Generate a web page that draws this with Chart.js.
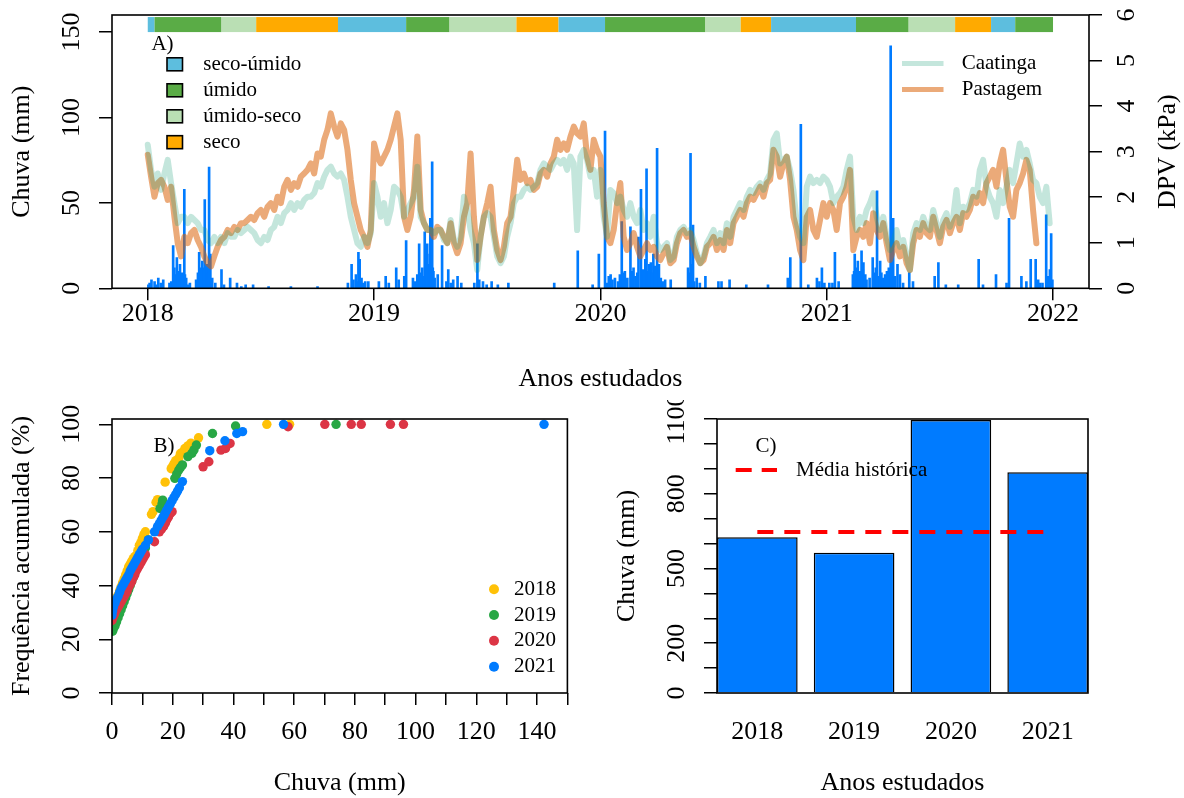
<!DOCTYPE html>
<html lang="pt">
<head>
<meta charset="utf-8">
<title>Chuva, DPV e frequência acumulada 2018–2021</title>
<script src="https://cdn.jsdelivr.net/npm/chart.js@4.4.1/dist/chart.umd.min.js"></script>
<style>
  html, body { margin: 0; padding: 0; background: #fff; }
  #wrap { position: relative; width: 1184px; height: 798px; overflow: hidden; background: #fff; }
  canvas { position: absolute; }
</style>
</head>
<body>
<div id="wrap">
  <canvas id="cA" width="1184" height="400" style="left:0;top:0;width:1184px;height:400px"></canvas>
  <canvas id="cB" width="590" height="398" style="left:0;top:400px;width:590px;height:398px"></canvas>
  <canvas id="cC" width="594" height="398" style="left:590px;top:400px;width:594px;height:398px"></canvas>
</div>
<script>
// ---------------- Painel A: DPV diário e chuva ----------------
const anos = [2018, 2019, 2020, 2021];
const passosPorAno = 68;

const dpvPastagem2018 = [2.93,2.45,2.01,2.31,2.38,2.23,1.94,2.23,1.57,0.99,0.70,1.13,0.99,1.21,1.28,1.06,0.91,0.70,0.55,0.48,0.70,0.91,1.06,1.13,1.28,1.21,1.35,1.28,1.43,1.43,1.50,1.57,1.50,1.65,1.72,1.57,1.79,1.87,1.72,2.01,1.87,2.23,2.38,2.16,2.31,2.23,2.45,2.52,2.60,2.74,2.52,2.96,2.89,3.26,3.48,3.84,3.55,3.33,3.62,3.48,3.04,2.38,1.87,1.57,1.28,1.13,0.91,1.28];
const dpvPastagem2019 = [3.18,2.89,2.74,2.89,3.04,3.26,3.55,3.84,3.26,1.57,1.28,1.57,2.16,3.33,1.72,1.43,1.28,1.28,1.13,1.35,1.28,1.13,0.99,1.43,0.99,0.77,0.99,1.57,1.87,2.96,1.57,0.62,1.13,1.57,1.87,2.23,1.28,0.84,0.62,0.91,1.43,1.57,2.16,2.82,2.38,2.52,2.31,2.38,2.16,2.23,2.52,2.60,2.45,2.74,2.89,3.26,3.04,3.18,3.04,3.33,3.55,3.40,3.33,3.62,2.89,2.60,3.26,3.04];
const dpvPastagem2020 = [2.89,1.87,1.13,0.99,1.28,1.87,2.31,1.13,0.84,0.99,1.21,0.91,0.70,0.84,0.99,0.84,0.91,0.70,0.62,0.77,0.91,0.55,0.62,0.99,1.21,1.28,1.13,1.21,0.91,0.70,0.55,0.62,0.91,0.99,1.13,0.84,1.06,0.84,1.28,0.99,1.43,1.57,1.72,1.57,1.87,2.01,1.94,2.09,2.23,2.01,2.31,2.38,3.04,2.89,2.45,2.74,2.89,2.38,1.57,1.28,0.84,0.62,1.57,1.72,1.28,1.13,1.50,1.87];
const dpvPastagem2021 = [1.57,1.87,1.72,1.28,1.87,2.01,2.23,2.60,0.84,1.13,1.28,1.13,1.43,0.99,1.65,1.28,1.13,1.43,0.99,0.62,0.84,0.99,0.70,0.91,0.55,0.40,0.99,1.28,1.13,1.43,1.21,1.13,1.57,1.28,0.99,1.35,1.50,1.21,1.43,1.57,1.28,1.65,1.57,1.72,2.01,1.87,2.09,1.87,2.31,2.45,2.60,2.23,2.74,3.04,2.38,1.79,1.57,2.16,2.31,2.52,2.82,2.60,1.72,0.99,null,null,null,null];

const dpvCaatinga2018 = [3.15,2.60,2.23,2.52,2.16,2.52,2.82,2.31,1.87,1.43,1.57,1.57,1.43,1.57,1.50,1.43,1.28,1.28,1.06,0.99,1.13,0.99,1.13,0.99,1.21,1.13,1.13,1.28,1.21,1.28,1.35,1.28,1.21,1.06,0.99,1.13,1.06,1.28,1.35,1.57,1.43,1.65,1.72,1.87,1.72,1.87,1.79,1.94,2.01,2.01,2.09,2.31,2.23,2.45,2.60,2.67,2.52,2.45,2.52,2.38,2.01,1.57,1.28,0.99,0.91,1.13,0.99,1.21];
const dpvCaatinga2019 = [2.31,2.01,1.57,1.87,1.43,1.72,2.23,2.16,2.01,1.57,1.72,1.87,2.01,2.67,1.57,1.43,1.28,1.28,1.21,1.28,1.28,1.06,0.99,1.50,1.06,0.91,1.13,2.01,1.72,1.28,0.99,0.40,1.13,1.57,1.65,1.57,1.13,0.70,0.55,0.70,1.13,1.43,1.87,2.01,2.01,2.16,2.23,2.16,2.23,2.31,2.60,2.74,2.67,2.60,2.74,2.82,2.74,2.82,2.60,2.89,2.74,1.28,2.89,3.04,2.82,2.45,2.60,2.01];
const dpvCaatinga2020 = [2.60,1.57,1.13,2.16,2.09,1.87,2.01,1.72,1.57,1.87,1.57,1.43,1.72,1.28,1.43,1.13,1.57,0.99,0.84,0.91,0.99,0.62,0.70,1.13,1.28,1.35,1.21,1.28,1.06,0.77,0.55,0.70,0.99,1.13,1.28,0.99,1.21,0.99,1.43,1.13,1.57,1.72,1.87,1.72,2.01,2.16,2.09,2.23,2.31,2.16,2.38,2.52,3.26,3.40,2.74,2.82,2.89,2.60,2.16,1.43,1.13,0.99,2.23,2.45,2.31,2.38,2.31,2.45];
const dpvCaatinga2021 = [2.38,2.23,1.87,2.01,2.09,2.23,2.60,2.89,1.57,1.28,1.57,1.43,1.72,1.87,2.09,1.57,1.28,1.57,1.13,0.84,0.99,1.28,0.91,1.06,0.70,0.40,1.21,1.43,1.28,1.57,1.35,1.28,1.72,1.43,1.13,1.50,1.65,1.35,1.57,2.16,1.43,1.79,1.72,1.87,2.16,2.01,2.60,2.82,2.23,2.01,1.87,1.57,2.16,1.87,2.23,2.60,2.31,2.74,3.18,2.89,3.04,2.74,2.38,2.31,2.01,1.87,2.23,1.43];

// chuva diária (mm) por data de ocorrência
const chuvaDatas2018 = [
  '2018-01-02','2018-01-04','2018-01-07','2018-01-12','2018-01-15','2018-01-18','2018-01-22','2018-01-26','2018-02-05','2018-02-08',
  '2018-02-11','2018-02-13','2018-02-15','2018-02-17','2018-02-19','2018-02-20','2018-02-22','2018-02-24','2018-02-25','2018-02-27',
  '2018-03-01','2018-03-02','2018-03-04','2018-03-07','2018-03-10','2018-03-20','2018-03-23','2018-03-25','2018-03-27','2018-03-28',
  '2018-03-30','2018-04-01','2018-04-02','2018-04-03','2018-04-05','2018-04-06','2018-04-07','2018-04-08','2018-04-10','2018-04-11',
  '2018-04-12','2018-04-13','2018-04-15','2018-04-20','2018-04-30','2018-05-04','2018-05-14','2018-05-25','2018-06-01','2018-06-08',
  '2018-06-20','2018-07-15','2018-08-20','2018-10-02','2018-11-20','2018-11-26','2018-11-29','2018-12-03','2018-12-05','2018-12-07',
  '2018-12-09','2018-12-12','2018-12-14','2018-12-18','2018-12-23'
];
const chuvaMm2018 = [
  2,3,5,4,2,6,3,5,3,4,
  25,12,8,18,6,10,14,5,9,4,
  58,8,6,2,3,5,9,21,7,12,
  16,10,12,52,8,5,14,9,71,11,
  20,4,6,3,11,2,6,3,1,2,
  2,1,1,1,3,14,5,8,4,21,
  17,6,3,4,4
];
const chuvaDatas2019 = [
  '2019-01-09','2019-01-20','2019-01-25','2019-02-06','2019-02-10','2019-02-19','2019-02-22','2019-03-05','2019-03-08','2019-03-12',
  '2019-03-15','2019-03-17','2019-03-20','2019-03-22','2019-03-24','2019-03-25','2019-03-27','2019-03-28','2019-03-30','2019-03-31',
  '2019-04-01','2019-04-02','2019-04-03','2019-04-04','2019-04-05','2019-04-06','2019-04-07','2019-04-09','2019-04-14','2019-04-21',
  '2019-04-28','2019-05-01','2019-05-05','2019-05-09','2019-05-16','2019-05-22','2019-06-12','2019-06-17','2019-06-20','2019-06-26',
  '2019-07-02','2019-07-10','2019-07-20','2019-08-06','2019-10-19','2019-11-26','2019-12-20','2019-12-30'
];
const chuvaMm2019 = [
  4,7,3,12,5,7,28,6,4,8,
  26,9,12,7,33,15,18,26,14,10,
  20,41,17,22,74,12,10,6,8,25,
  4,11,3,5,7,3,3,26,5,4,
  2,4,2,3,3,22,2,20
];
const chuvaDatas2020 = [
  '2020-01-09','2020-01-12','2020-01-15','2020-01-18','2020-01-21','2020-01-25','2020-01-30','2020-02-02','2020-02-05','2020-02-07',
  '2020-02-10','2020-02-14','2020-02-19','2020-02-21','2020-02-24','2020-02-27','2020-03-01','2020-03-03','2020-03-07','2020-03-10',
  '2020-03-12','2020-03-14','2020-03-16','2020-03-18','2020-03-20','2020-03-23','2020-03-25','2020-03-27','2020-03-30','2020-04-02',
  '2020-04-05','2020-04-08','2020-04-11','2020-04-15','2020-04-24','2020-05-22','2020-05-24','2020-05-26','2020-05-28','2020-05-30',
  '2020-06-01','2020-06-05','2020-06-10','2020-06-19','2020-07-10','2020-07-15','2020-07-28','2020-08-24','2020-09-28','2020-10-30',
  '2020-11-03','2020-11-20','2020-12-02','2020-12-16','2020-12-20','2020-12-24','2020-12-28'
];
const chuvaMm2020 = [
  92,3,7,8,5,6,4,8,39,9,
  10,6,36,10,12,7,9,30,58,11,
  8,17,70,10,14,15,9,20,13,82,
  14,6,4,5,5,12,9,79,14,37,
  4,6,3,7,4,4,5,2,2,6,
  18,96,2,6,4,12,3
];
const chuvaDatas2021 = [
  '2021-01-05','2021-01-10','2021-01-14','2021-01-20','2021-02-12','2021-02-14','2021-02-15','2021-02-17','2021-02-19','2021-02-20',
  '2021-02-22','2021-02-23','2021-02-26','2021-02-28','2021-03-01','2021-03-04','2021-03-06','2021-03-11','2021-03-16','2021-03-19',
  '2021-03-21','2021-03-23','2021-03-25','2021-03-28','2021-03-30','2021-04-02','2021-04-05','2021-04-08','2021-04-11','2021-04-14',
  '2021-04-16','2021-04-18','2021-04-21','2021-04-25','2021-04-29','2021-05-04','2021-05-14','2021-05-20','2021-06-24','2021-06-30',
  '2021-07-12','2021-08-01','2021-09-03','2021-09-10','2021-10-01','2021-10-18','2021-10-22','2021-11-11','2021-11-19','2021-11-26',
  '2021-12-04','2021-12-08','2021-12-11','2021-12-15','2021-12-21','2021-12-24','2021-12-27','2021-12-29','2021-12-31'
];
const chuvaMm2021 = [
  3,3,21,4,8,10,20,12,9,16,
  6,10,22,11,15,8,5,6,18,9,
  12,57,7,16,9,6,8,10,12,142,
  16,41,7,14,8,3,9,4,7,15,
  2,2,17,2,8,3,41,7,4,17,
  17,5,3,3,43,7,11,32,5
];

// Estações climáticas (faixa no topo do painel A)
const estacaoInicio = ['2018-01-01','2018-01-12','2018-04-30','2018-06-25','2018-11-04','2019-02-22','2019-05-03','2019-08-19','2019-10-26',
                       '2020-01-09','2020-06-19','2020-08-15','2020-10-03','2021-02-17','2021-05-13','2021-07-27','2021-09-23','2021-11-01'];
const estacaoTipo = ['seco-úmido','úmido','úmido-seco','seco','seco-úmido','úmido','úmido-seco','seco','seco-úmido',
                     'úmido','úmido-seco','seco','seco-úmido','úmido','úmido-seco','seco','seco-úmido','úmido'];
const estacaoFim = '2022-01-01';
const estacaoLegenda = ['seco-úmido','úmido','úmido-seco','seco'];

const anosTicks = [2018, 2019, 2020, 2021, 2022];
const chuvaTicks = [0, 50, 100, 150];
const dpvTicks = [0, 1, 2, 3, 4, 5, 6];

// ---------------- Painel B: frequência acumulada ----------------
const freq2018Chuva = [0.2,0.5,0.8,1.2,1.6,2,2.5,3,3.5,4,4.5,5,5.5,6,6.5,7,7.5,8.5,9,9.5,10,10.5,11,13,13.5,14.5,15,17.5,19.5,20,20.5,21,22,22.5,23,24,25,26,28.5,51,58.5];
const freq2018Pct   = [31,32,33,34,35.5,36.5,38,39.5,41,42.5,44,45.5,47,48,49,50,50.8,53,55,56,57.5,59,60,66.5,67.5,71,72,78.5,83.5,84.5,85.5,86.5,87.5,89,89.5,91,92,93,95,100,100];
const freq2019Chuva = [0.2,0.5,1,1.5,2,2.5,3,3.5,4,4.5,5,5.5,6,6.5,7,7.5,8,9,10,11,12,15.8,16.5,16.7,20.7,21.3,22,22.6,23.2,25,26.3,27,27.8,33.1,40.7,73.8];
const freq2019Pct   = [23,24,25,26.5,28,29.5,31,32.5,34,35.5,37,38.5,40,41.5,43,44.5,46,48.5,51,54,57,68.7,70.5,71.8,79.9,81.5,83,84,84.9,88,89.2,90.5,92.3,96.6,99.4,100];
const freq2020Chuva = [0,0.3,0.7,1,1.5,2,2.5,3,3.5,4,4.5,5,5.5,6,6.5,7,7.5,8,8.5,9,9.5,10,10.5,11,14,15.6,16.3,17,17.6,18,18.6,19.3,19.8,30,31.9,35.9,37.4,38.9,58,70.1,78.8,82.1,91.7,96];
const freq2020Pct   = [27,28,29,30,31,32,33,34,35,36,37,38,39.5,40.5,41.5,43,44,45.5,46.5,47.5,48.5,49.5,50.5,51.5,56.3,60,61,62,63.3,64.4,65.5,66.9,67.5,84.2,86.1,90.4,91,92.9,99.1,100,100,100,100,100];
const freq2021Chuva = [0,0.2,0.5,1,1.5,2,2.5,3,3.5,4,4.5,5,5.5,6,6.5,7,7.5,8,8.5,9,9.5,10,11,12,14,15,15.6,16.2,16.8,17.4,18,18.6,19.2,19.8,20.4,21,21.6,22.2,23.2,32.2,37.2,41.1,43,56.5,142.3];
const freq2021Pct   = [29,30.5,32,33.5,35,36,37.5,39,40,41,42,43,44,45.5,46.5,47.5,48.5,49.5,50.5,51.5,52.5,53.5,55,57,60,62,63.1,64.3,65.5,66.7,68,69.2,70.4,71.6,72.8,74,75.2,76.4,78.7,90.2,93.9,96.6,97.3,100,100];

const freqXTicks = [0,10,20,30,40,50,60,70,80,90,100,110,120,130,140,150];
const freqXRotulos = [0,20,40,60,80,100,120,140];
const freqYTicks = [0,20,40,60,80,100];

// ---------------- Painel C: chuva anual ----------------
const anosRotulo = ['2018','2019','2020','2021'];
const chuvaAnual = [625, 563, 1096, 886];
const mediaHistorica = 646;
const anualYTicks = [0,100,200,300,400,500,600,700,800,900,1000,1100];
const anualYRotulos = [0,200,500,800,1100];

// ---------------- estilo ----------------
const FONTE = '"Liberation Serif", "Times New Roman", Times, serif';
const GRANDE = 26, PEQUENA = 21;
const corEstacao = { 'seco-úmido': '#5DBEDE', 'úmido': '#5AAC46', 'úmido-seco': '#BADFB4', 'seco': '#FFAA00' };
const corCaatinga = 'rgba(27,158,119,0.26)';
const corPastagem = 'rgba(217,95,2,0.53)';
const corChuva = '#007BFF';
const corAno = { '2018': '#FFC107', '2019': '#28A745', '2020': '#DC3545', '2021': '#007BFF' };

Chart.defaults.font.family = FONTE;

const MS_DIA = 86400000, BASE = Date.UTC(2018, 0, 1);
function anoDecimal(s) {
  const [a, m, d] = s.split('-').map(Number);
  return 2018 + (Date.UTC(a, m - 1, d) - BASE) / MS_DIA / 365.25;
}

function texto(ctx, s, x, y, tam, alinh, rot) {
  ctx.save();
  ctx.translate(x, y);
  if (rot) ctx.rotate(rot);
  ctx.font = tam + 'px ' + FONTE;
  ctx.fillStyle = '#000';
  ctx.textAlign = alinh || 'center';
  ctx.textBaseline = 'middle';
  ctx.fillText(s, 0, 0);
  ctx.restore();
}

function moldura(ctx, a) {
  ctx.save();
  ctx.strokeStyle = '#000';
  ctx.lineWidth = 1.6;
  ctx.strokeRect(a.left, a.top, a.right - a.left, a.bottom - a.top);
  ctx.restore();
}

function fixarTicks(vals) {
  return s => { s.ticks = vals.map(v => ({ value: v })); };
}

function eixo(extra, tickLen) {
  return Object.assign({
    type: 'linear',
    offset: false,
    grid: { drawOnChartArea: false, drawTicks: true, tickLength: tickLen, color: '#000', lineWidth: 1.5, offset: false },
    border: { display: false },
    ticks: { display: false }
  }, extra);
}

const ROT = -Math.PI / 2;

// ---------------- Painel A ----------------
function serieDpv(partes) {
  const out = [];
  anos.forEach((a, k) => partes[k].forEach((v, i) => out.push({ x: a + i / passosPorAno, y: v })));
  return out;
}

function serieChuva(datas, valores) {
  const out = [];
  datas.forEach((d, k) => d.forEach((s, i) => out.push({ x: anoDecimal(s), y: valores[k][i] })));
  return out;
}

const faixaBase = 150, faixaTopo = 158.8;

const painelA = {
  id: 'painelA',
  beforeDatasetsDraw(chart) {
    const ctx = chart.ctx, x = chart.scales.x, y = chart.scales.yChuva;
    const y0 = y.getPixelForValue(faixaTopo), y1 = y.getPixelForValue(faixaBase);
    ctx.save();
    estacaoInicio.forEach((ini, i) => {
      const fim = i + 1 < estacaoInicio.length ? estacaoInicio[i + 1] : estacaoFim;
      const xa = x.getPixelForValue(anoDecimal(ini)), xb = x.getPixelForValue(anoDecimal(fim));
      ctx.fillStyle = corEstacao[estacaoTipo[i]];
      ctx.fillRect(xa, y0, xb - xa, y1 - y0);
    });
    ctx.restore();
  },
  afterDraw(chart) {
    const ctx = chart.ctx, a = chart.chartArea;
    const x = chart.scales.x, yc = chart.scales.yChuva, yd = chart.scales.yDpv;
    moldura(ctx, a);
    anosTicks.forEach(v => texto(ctx, String(v), x.getPixelForValue(v), a.bottom + 26, GRANDE));
    chuvaTicks.forEach(v => texto(ctx, String(v), a.left - 39.5, yc.getPixelForValue(v), GRANDE, 'center', ROT));
    dpvTicks.forEach(v => texto(ctx, String(v), a.right + 37.7, yd.getPixelForValue(v), GRANDE, 'center', ROT));
    texto(ctx, 'Chuva (mm)', 22.5, (a.top + a.bottom) / 2, GRANDE, 'center', ROT);
    texto(ctx, 'DPV (kPa)', 1168, (a.top + a.bottom) / 2, GRANDE, 'center', ROT);
    texto(ctx, 'Anos estudados', (a.left + a.right) / 2, a.bottom + 91, GRANDE);
    texto(ctx, 'A)', 162.5, 44, PEQUENA);

    // legenda das estações
    const linhas = [64.3, 90.3, 116.3, 142.2];
    ctx.save();
    estacaoLegenda.forEach((nome, i) => {
      ctx.fillStyle = corEstacao[nome];
      ctx.fillRect(167, linhas[i] - 6.5, 15.5, 13);
      ctx.strokeStyle = '#000';
      ctx.lineWidth = 1.6;
      ctx.strokeRect(167, linhas[i] - 6.5, 15.5, 13);
      texto(ctx, nome, 203.3, linhas[i], PEQUENA, 'left');
    });
    ctx.restore();

    // legenda das séries de DPV
    const itens = [['Caatinga', corCaatinga, 63.5], ['Pastagem', corPastagem, 89.5]];
    ctx.save();
    itens.forEach(([nome, cor, yy]) => {
      ctx.strokeStyle = cor;
      ctx.lineWidth = 5;
      ctx.lineCap = 'butt';
      ctx.beginPath();
      ctx.moveTo(902, yy);
      ctx.lineTo(943.5, yy);
      ctx.stroke();
      texto(ctx, nome, 961.7, yy, PEQUENA, 'left');
    });
    ctx.restore();
  }
};

new Chart(document.getElementById('cA'), {
  type: 'line',
  data: {
    datasets: [
      {
        type: 'line', label: 'Caatinga', yAxisID: 'yDpv', order: 0,
        data: serieDpv([dpvCaatinga2018, dpvCaatinga2019, dpvCaatinga2020, dpvCaatinga2021]),
        borderColor: corCaatinga, borderWidth: 6, pointRadius: 0, tension: 0,
        borderJoinStyle: 'round', borderCapStyle: 'round', fill: false
      },
      {
        type: 'line', label: 'Pastagem', yAxisID: 'yDpv', order: 1,
        data: serieDpv([dpvPastagem2018, dpvPastagem2019, dpvPastagem2020, dpvPastagem2021]),
        borderColor: corPastagem, borderWidth: 6, pointRadius: 0, tension: 0,
        borderJoinStyle: 'round', borderCapStyle: 'round', fill: false, spanGaps: false
      },
      {
        type: 'bar', label: 'Chuva', yAxisID: 'yChuva', order: 2,
        data: serieChuva([chuvaDatas2018, chuvaDatas2019, chuvaDatas2020, chuvaDatas2021],
                         [chuvaMm2018, chuvaMm2019, chuvaMm2020, chuvaMm2021]),
        backgroundColor: corChuva, borderWidth: 0, barThickness: 2
      }
    ]
  },
  options: {
    responsive: false, animation: false, devicePixelRatio: 1,
    layout: { padding: { top: 15, right: 0, bottom: 0, left: 0 } },
    plugins: { legend: { display: false }, tooltip: { enabled: false } },
    scales: {
      x: eixo({ position: 'bottom', min: 2017.842, max: 2022.159, afterBuildTicks: fixarTicks(anosTicks), afterFit: s => { s.height = 111.7; } }, 12),
      yChuva: eixo({ position: 'left', min: 0, max: 160, afterBuildTicks: fixarTicks(chuvaTicks), afterFit: s => { s.width = 112; } }, 13),
      yDpv: eixo({ position: 'right', min: 0, max: 6, afterBuildTicks: fixarTicks(dpvTicks), afterFit: s => { s.width = 95; } }, 13)
    }
  },
  plugins: [painelA]
});

// ---------------- Painel B ----------------
const seriesFreq = [
  ['2018', freq2018Chuva, freq2018Pct],
  ['2019', freq2019Chuva, freq2019Pct],
  ['2020', freq2020Chuva, freq2020Pct],
  ['2021', freq2021Chuva, freq2021Pct]
];

const painelB = {
  id: 'painelB',
  afterDraw(chart) {
    const ctx = chart.ctx, a = chart.chartArea, x = chart.scales.x, y = chart.scales.y;
    moldura(ctx, a);
    freqXRotulos.forEach(v => texto(ctx, String(v), x.getPixelForValue(v), a.bottom + 38.7, GRANDE));
    freqYTicks.forEach(v => texto(ctx, String(v), a.left - 39.5, y.getPixelForValue(v), GRANDE, 'center', ROT));
    texto(ctx, 'Frequência acumulada (%)', 22, (a.top + a.bottom) / 2, GRANDE, 'center', ROT);
    texto(ctx, 'Chuva (mm)', (a.left + a.right) / 2, a.bottom + 90, GRANDE);
    texto(ctx, 'B)', 164, 46.7, PEQUENA);
    const linhas = [189.3, 215, 240.7, 266.7];
    ctx.save();
    seriesFreq.forEach(([ano], i) => {
      ctx.fillStyle = corAno[ano];
      ctx.beginPath();
      ctx.arc(494, linhas[i], 5, 0, Math.PI * 2);
      ctx.fill();
      texto(ctx, ano, 514, linhas[i], PEQUENA, 'left');
    });
    ctx.restore();
  }
};

new Chart(document.getElementById('cB'), {
  type: 'scatter',
  data: {
    datasets: seriesFreq.map(([ano, xs, ys], i) => ({
      label: ano,
      order: 3 - i,
      data: xs.map((v, k) => ({ x: v, y: ys[k] })),
      pointRadius: 4.7, pointBorderWidth: 0,
      pointBackgroundColor: corAno[ano], backgroundColor: corAno[ano], borderColor: corAno[ano]
    }))
  },
  options: {
    responsive: false, animation: false, devicePixelRatio: 1,
    layout: { padding: { top: 19, right: 22.6, bottom: 0, left: 0 } },
    plugins: { legend: { display: false }, tooltip: { enabled: false } },
    scales: {
      x: eixo({ position: 'bottom', min: 0, max: 150, afterBuildTicks: fixarTicks(freqXTicks), afterFit: s => { s.height = 105; } }, 12),
      y: eixo({ position: 'left', min: 0, max: 102, afterBuildTicks: fixarTicks(freqYTicks), afterFit: s => { s.width = 112; } }, 13)
    }
  },
  plugins: [painelB]
});

// ---------------- Painel C ----------------
const painelC = {
  id: 'painelC',
  afterDraw(chart) {
    const ctx = chart.ctx, a = chart.chartArea, x = chart.scales.x, y = chart.scales.y;
    moldura(ctx, a);
    anosRotulo.forEach((r, i) => texto(ctx, r, x.getPixelForValue(i), a.bottom + 38.7, GRANDE));
    anualYRotulos.forEach(v => texto(ctx, String(v), a.left - 40, y.getPixelForValue(v), GRANDE, 'center', ROT));
    texto(ctx, 'Chuva (mm)', 37, (a.top + a.bottom) / 2, GRANDE, 'center', ROT);
    texto(ctx, 'Anos estudados', (a.left + a.right) / 2, a.bottom + 90, GRANDE);
    texto(ctx, 'C)', 176, 46.7, PEQUENA);
    ctx.save();
    ctx.strokeStyle = '#FF0000';
    ctx.lineWidth = 4;
    ctx.setLineDash([16, 10]);
    ctx.beginPath();
    ctx.moveTo(145.7, 70);
    ctx.lineTo(187, 70);
    ctx.stroke();
    ctx.restore();
    texto(ctx, 'Média histórica', 206, 70, PEQUENA, 'left');
  }
};

new Chart(document.getElementById('cC'), {
  type: 'bar',
  data: {
    datasets: [
      {
        type: 'line', label: 'Média histórica', order: 0,
        data: anosRotulo.map((r, i) => ({ x: i, y: mediaHistorica })),
        borderColor: '#FF0000', borderWidth: 4, borderDash: [16, 11], pointRadius: 0, fill: false
      },
      {
        type: 'bar', label: 'Chuva anual', order: 1,
        data: anosRotulo.map((r, i) => ({ x: i, y: chuvaAnual[i] })),
        backgroundColor: corChuva, borderColor: '#000', borderWidth: 1.5,
        categoryPercentage: 1, barPercentage: 1 / 1.2
      }
    ]
  },
  options: {
    responsive: false, animation: false, devicePixelRatio: 1,
    layout: { padding: { top: 19, right: 96, bottom: 0, left: 0 } },
    plugins: { legend: { display: false }, tooltip: { enabled: false } },
    scales: {
      x: {
        type: 'linear', position: 'bottom', offset: false, min: -0.4167, max: 3.4167,
        afterBuildTicks: fixarTicks(anosRotulo.map((r, i) => i)),
        grid: { display: false, offset: false }, border: { display: false }, ticks: { display: false },
        afterFit: s => { s.height = 105; }
      },
      y: eixo({ position: 'left', min: 0, max: 1100, afterBuildTicks: fixarTicks(anualYTicks), afterFit: s => { s.width = 127; } }, 13)
    }
  },
  plugins: [painelC]
});
</script>
</body>
</html>
